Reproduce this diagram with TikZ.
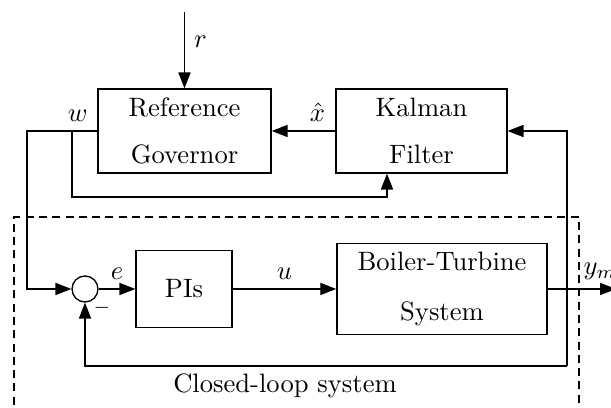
\documentclass[tikz,border=0pt]{standalone}
\usepackage{amsmath, amssymb}
\usetikzlibrary{shapes,arrows.meta,positioning}

\begin{document}
\begin{tikzpicture}[x=1.322mm, y=1.322mm, line width=0.5pt,
  >={Triangle[length=2.1mm,width=1.6mm]},
  blk/.style={draw, align=center, minimum height=11.1mm},
  sumnode/.style={draw, circle, minimum size=3.44mm, inner sep=0pt}]
\path[use as bounding box, clip] (0,0) rectangle (61.1,40.8);

% Draw blocks
\node[blk, minimum width=22.9mm] (gov) at (18.45,27.7) {Reference\\[5.5pt]Governor};
\node[blk, minimum width=22.6mm] (kal) at (42.15,27.7) {Kalman\\[5.5pt]Filter};
\node[sumnode] (sum) at (8.5,11.9) {};
\node[font=\scriptsize] (minus) at (10.2,10.0) {$-$};
\node[blk, minimum width=12.7mm, minimum height=10.2mm] (pis) at (18.4,11.9) {PIs};
\node[blk, minimum width=27.8mm, minimum height=11.8mm] (plant) at (44.2,11.9) {Boiler-Turbine\\[6.5pt]System};

% Closed-loop box
\draw[dash pattern=on 3pt off 2pt] (1.4,-1) rectangle (57.9,19.1);
\node (cls) at (28.5,2.2) {Closed-loop system};

% Points for wires
\coordinate (rin) at (18.45,39.6);
\coordinate (wl) at (2.7,27.7);
\coordinate (wb) at (7.2,27.7);
\coordinate (wk) at (38.7,21.1);
\coordinate (yout) at (61.6,11.9);
\coordinate (fbb) at (56.7,4.2);

% Draw signals
\draw[->] (rin) -- (gov) node[pos=0.39, right] {$r$};
\draw[->] (kal) -- (gov) node[pos=0.28, above] {$\hat{x}$};
\draw[->] (gov.west) node[above left] {$w$} -- (wl) |- (sum.west);
\draw[->] (wb) |- (wk) -- (wk |- kal.south);
\draw[->] (sum) -- (pis) node[midway, above] {$e$};
\draw[->] (pis) -- (plant) node[midway, above] {$u$};
\draw[->] (plant) -- (yout) node[pos=0.77, above] {$y_m$};
\draw[->] (fbb) |- (kal.east);
\draw[->] (fbb) -| (sum.south);
\end{tikzpicture}
\end{document}
